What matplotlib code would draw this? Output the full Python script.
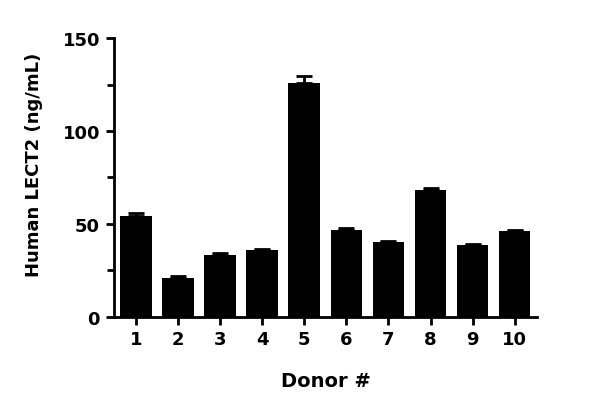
import matplotlib
matplotlib.use("Agg")
import matplotlib.pyplot as plt
from matplotlib.ticker import MultipleLocator

# donor data (ng/mL), mean and upper SEM
donors = ['1', '2', '3', '4', '5', '6', '7', '8', '9', '10']
lect2 = [54.3, 20.6, 33.1, 35.7, 125.9, 46.6, 40.0, 68.2, 38.7, 46.3]
sem = [1.3, 1.1, 0.9, 0.7, 3.7, 1.1, 0.7, 0.9, 0.3, 0.3]

plt.rcParams['font.family'] = ['DejaVu Sans']
plt.rcParams['font.weight'] = 'bold'

fig = plt.figure(figsize=(6, 4.14), dpi=100)
ax = fig.add_axes([0.19, 0.233, 0.705, 0.672])

x = list(range(1, len(donors) + 1))
ax.bar(x, lect2, width=0.75, color='black', zorder=2)
ax.errorbar(x, lect2, yerr=[[0] * len(sem), sem], fmt='none', ecolor='black',
            elinewidth=2, capsize=5.5, capthick=2, zorder=1)

ax.set_xlim(0.48, 10.53)
ax.set_ylim(0, 150)
ax.set_xticks(x)
ax.set_xticklabels(donors)
ax.yaxis.set_major_locator(MultipleLocator(50))
ax.yaxis.set_minor_locator(MultipleLocator(25))

for s in ['top', 'right']:
    ax.spines[s].set_visible(False)
for s in ['left', 'bottom']:
    ax.spines[s].set_linewidth(2)

ax.tick_params(axis='both', which='major', length=6, width=2, labelsize=13, pad=4)
ax.tick_params(axis='y', which='minor', length=5, width=2)

ax.set_xlabel('Donor #', fontsize=14, fontweight='bold', labelpad=16)
ax.set_ylabel('Human LECT2 (ng/mL)', fontsize=13, fontweight='bold', labelpad=14)
ax.yaxis.label.set_y(0.55)

fig.savefig('out.png', dpi=100)
